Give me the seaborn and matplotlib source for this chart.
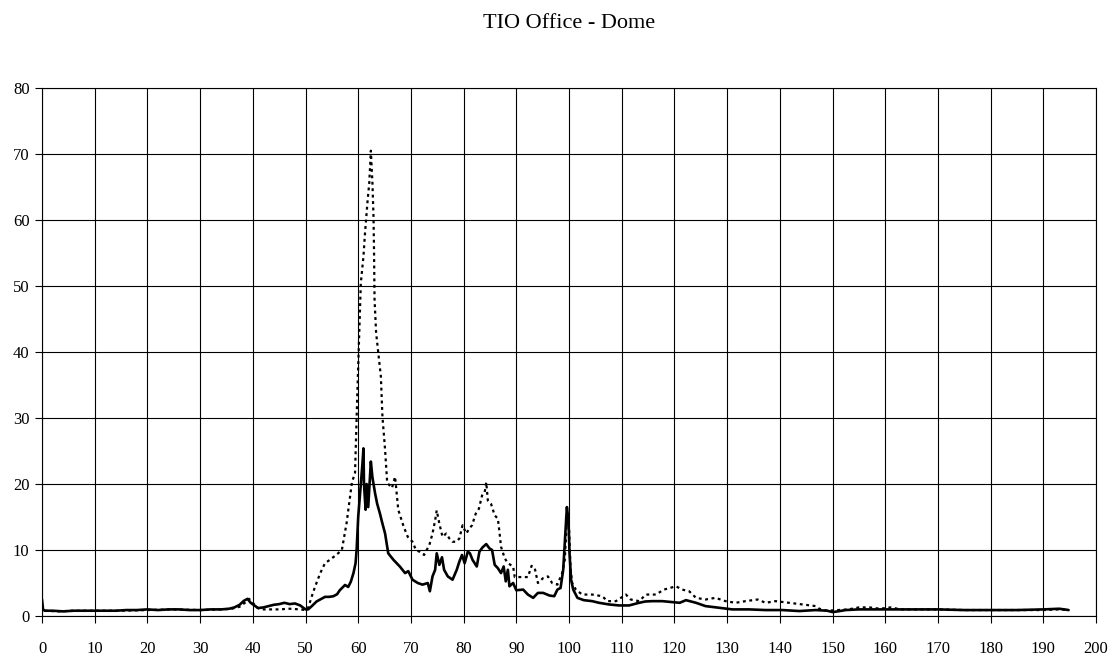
import matplotlib
matplotlib.use("Agg")
import matplotlib.pyplot as plt
import seaborn as sns

# ---------------- data ----------------
title = "TIO Office - Dome"
x_ticks = list(range(0, 201, 10))
y_ticks = list(range(0, 81, 10))

solid_x = [
    0, 0.2, 0.5, 2, 4, 6, 8, 10, 12, 14,
    16, 18, 20, 22, 24, 26, 28, 30, 32, 34,
    35.5, 36.5, 37.5, 38.3, 39, 39.6, 40.3, 41, 42, 43,
    44, 45, 46, 47, 48, 49, 50, 50.5, 51.2, 52.1,
    53, 53.7, 54.5, 55.3, 56, 56.5, 57, 57.5, 58.1, 58.6,
    59.1, 59.5, 59.7, 60.0, 60.3, 60.5, 60.8, 61.0, 61.1, 61.4,
    61.6, 61.9, 62.2, 62.4, 62.7, 63.2, 63.6, 64.1, 64.6, 65.1,
    65.7, 66.2, 66.7, 67.3, 67.9, 68.4, 68.9, 69.5, 70.3, 71.3,
    72.2, 73.2, 73.6, 74.1, 74.6, 74.9, 75.4, 75.9, 76.3, 77.0,
    77.9, 78.7, 79.2, 79.7, 80.2, 80.8, 81.2, 81.7, 82.5, 83.0,
    83.6, 84.3, 84.9, 85.4, 85.9, 86.5, 87.1, 87.6, 88.0, 88.4,
    88.7, 89.4, 90.0, 91.3, 92.2, 93.2, 94.1, 95.1, 96.3, 97.2,
    97.8, 98.4, 98.9, 99.2, 99.6, 99.9, 100.1, 100.4, 100.8, 101.6,
    102.8, 104.4, 105.7, 107.6, 109.5, 111.4, 113.3, 114.5, 115.8, 117.7,
    119.6, 121, 122.2, 124.1, 125.9, 128.5, 131, 134.2, 137.3, 140.5,
    143.7, 146.8, 149, 150, 151, 152.5, 155, 158, 161, 165,
    170, 175, 180, 185, 190, 193, 194, 194.8,
]
solid_y = [
    2.5, 1.0, 0.8, 0.8, 0.7, 0.8, 0.8, 0.8, 0.8, 0.8,
    0.9, 0.9, 1.0, 0.9, 1.0, 1.0, 0.9, 0.9, 1.0, 1.0,
    1.1, 1.3, 1.7, 2.3, 2.6, 2.0, 1.6, 1.2, 1.3, 1.5,
    1.7, 1.8, 2.0, 1.8, 1.9, 1.6, 1.0, 1.0, 1.5, 2.2,
    2.6, 2.9, 2.9, 3.0, 3.3, 3.9, 4.3, 4.7, 4.4, 5.2,
    6.5, 8.0, 10.0, 15.0, 18.0, 20.1, 23.0, 25.4, 20.0, 16.1,
    20.0, 16.5, 20.5, 23.4, 21.0, 18.6, 17.0, 15.6, 14.0, 12.5,
    9.5, 9.0, 8.5, 8.0, 7.5, 7.0, 6.5, 6.8, 5.5, 5.0,
    4.75, 5.0, 3.75, 6.0, 7.0, 9.5, 7.75, 8.9, 7.0, 6.0,
    5.5, 7.0, 8.25, 9.25, 8.0, 9.75, 9.5, 8.5, 7.5, 9.75,
    10.4, 10.9, 10.25, 10.0, 7.75, 7.25, 6.5, 7.5, 5.25, 7.0,
    4.5, 5.0, 3.9, 4.0, 3.25, 2.75, 3.5, 3.5, 3.1, 3.0,
    4.0, 4.25, 7.0, 11.0, 16.5, 14.5, 9.5, 5.5, 4.0, 2.75,
    2.4, 2.25, 2.0, 1.75, 1.6, 1.6, 2.0, 2.2, 2.25, 2.25,
    2.1, 2.0, 2.4, 2.0, 1.5, 1.25, 1.0, 1.0, 0.9, 0.9,
    0.75, 0.9, 0.8, 0.6, 0.7, 0.9, 1.0, 1.0, 1.0, 1.0,
    1.0, 0.9, 0.9, 0.9, 1.0, 1.1, 1.0, 0.9,
]

dotted_x = [
    0.5, 3, 6, 10, 15, 20, 25, 30, 34, 36,
    37.5, 38.5, 39.3, 40, 40.8, 41.5, 43, 45, 47, 49,
    50, 50.5, 51.2, 51.8, 52.8, 53.7, 54.6, 55.9, 56.9, 57.8,
    58.8, 59.4, 59.8, 60.2, 60.5, 61.0, 61.3, 61.8, 62.1, 62.4,
    62.7, 62.9, 63.0, 63.1, 63.4, 63.8, 64.3, 64.6, 65.1, 65.5,
    66.4, 67.0, 67.6, 68.6, 69.4, 70.3, 70.95, 71.6, 72.5, 73.5,
    74.1, 74.6, 74.9, 75.4, 76.0, 76.7, 77.3, 77.9, 78.6, 79.2,
    79.8, 80.5, 81.1, 81.6, 82.3, 82.9, 83.5, 84.0, 84.3, 84.6,
    85.2, 85.9, 86.5, 86.8, 87.1, 87.8, 88.4, 89.4, 89.7, 90.6,
    92.2, 92.9, 93.5, 94.1, 95.1, 96.0, 96.8, 97.8, 98.7, 99.2,
    99.6, 100.0, 100.3, 100.6, 101.3, 102.5, 104.4, 106.3, 107.3, 108.9,
    110.8, 111.7, 113.3, 114.6, 116.5, 118.0, 120.3, 121.5, 122.8, 124.1,
    125.9, 127.8, 129.7, 131.6, 133.5, 135.8, 137.3, 139.2, 141.8, 144.3,
    146.8, 147.5, 149, 151, 153, 155, 157, 159, 161, 163,
    166, 170, 175, 180, 185, 190, 193, 194.8,
]
dotted_y = [
    0.8, 0.7, 0.8, 0.8, 0.8, 0.9, 1.0, 0.9, 1.0, 1.1,
    1.4, 2.0, 2.6, 2.0, 1.3, 1.0, 1.0, 1.0, 1.1, 1.0,
    0.9, 1.2, 3.0, 4.4, 6.5, 8.0, 8.5, 9.3, 10.0, 14.1,
    20.2, 21.7, 32.8, 42.9, 50.5, 54.5, 58.1, 63.1, 65.6, 70.5,
    65.6, 60.6, 55.5, 48.0, 42.9, 39.9, 36.3, 30.2, 25.2, 20.2,
    19.4, 21.1, 16.1, 13.6, 12.0, 11.25, 10.0, 9.75, 9.25, 10.75,
    12.5, 14.5, 16.0, 14.0, 12.0, 12.5, 11.75, 11.25, 11.25, 11.75,
    13.75, 12.5, 13.25, 13.75, 15.5, 16.25, 18.25, 18.75, 20.25, 17.5,
    17.0, 15.25, 14.75, 12.75, 10.5, 8.75, 8.0, 7.5, 5.9, 5.9,
    5.9, 7.6, 7.25, 5.0, 5.75, 6.0, 5.0, 4.75, 6.5, 8.5,
    14.5, 13.5, 7.0, 5.0, 4.0, 3.25, 3.25, 3.0, 2.25, 2.25,
    3.25, 2.5, 2.25, 3.25, 3.25, 4.0, 4.5, 4.0, 3.75, 2.75,
    2.5, 2.75, 2.25, 2.0, 2.25, 2.5, 2.0, 2.25, 2.0, 1.75,
    1.5, 1.1, 0.8, 0.9, 1.0, 1.3, 1.3, 1.1, 1.3, 1.0,
    1.0, 1.0, 0.9, 0.9, 0.9, 0.9, 1.0, 0.9,
]

# ---------------- drawing ----------------
sns.set_style("white")
plt.rcParams['font.family'] = ['Liberation Serif', 'DejaVu Serif']
plt.rcParams['text.color'] = 'black'

W, H = 1118, 655
fig = plt.figure(figsize=(W / 100, H / 100), dpi=100)
ax = fig.add_axes([42 / W, 1 - 616 / H, (1096 - 42) / W, (616 - 88) / H])

sns.lineplot(x=solid_x, y=solid_y, ax=ax, color='black', linewidth=1.9,
             sort=False, estimator=None)
sns.lineplot(x=dotted_x, y=dotted_y, ax=ax, color='black', linewidth=1.6,
             linestyle=(0, (1.3, 1.6)), sort=False, estimator=None)

ax.set_xlim(0, 200)
ax.set_ylim(0, 80)
ax.set_xticks(x_ticks)
ax.set_yticks(y_ticks)
ax.set_xlabel("")
ax.set_ylabel("")
ax.grid(True, color='black', linewidth=0.8)
ax.set_axisbelow(True)
for s in ax.spines.values():
    s.set_visible(True)
    s.set_color('black')
    s.set_linewidth(0.8)
ax.tick_params(axis='x', bottom=True, direction='out', length=5, width=0.8,
               color='black', labelcolor='black', labelsize=12, pad=13)
ax.tick_params(axis='y', left=True, direction='out', length=5, width=0.8,
               color='black', labelcolor='black', labelsize=12, pad=4)

fig.text(569 / W, 1 - 23 / H, title, ha='center', va='center', fontsize=16,
         color='black')

fig.savefig("out.png", dpi=100)
